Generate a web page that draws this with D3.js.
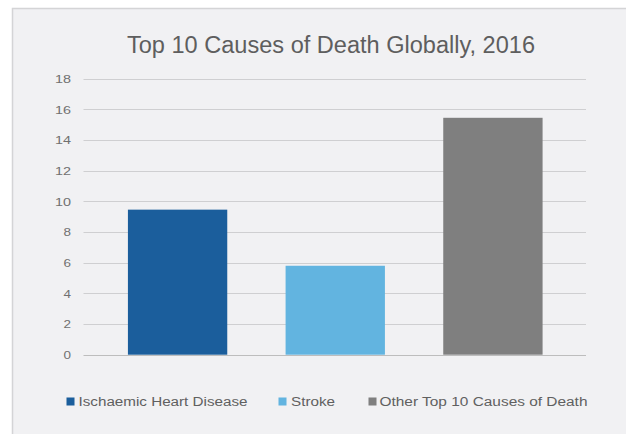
<!DOCTYPE html>
<html>
<head>
<meta charset="utf-8">
<script src="https://cdn.jsdelivr.net/npm/d3@7"></script>
<style>
  html, body { margin: 0; padding: 0; background: #ffffff; }
  svg { display: block; }
  text { font-family: "Liberation Sans", Arial, sans-serif; }
</style>
</head>
<body>
<svg id="chart" width="626" height="434"></svg>
<script>
const categories = ["Ischaemic Heart Disease", "Stroke", "Other Top 10 Causes of Death"];
const values = [9.46, 5.8, 15.45];
const colors = ["#1b5e9c", "#62b4e0", "#7f7f7f"];
const yTicks = [0, 2, 4, 6, 8, 10, 12, 14, 16, 18];
const title = "Top 10 Causes of Death Globally, 2016";

const svg = d3.select("#chart");
const W = 626, H = 434;

// panel
svg.append("rect").attr("x", 12.5).attr("y", 8.5).attr("width", W).attr("height", H)
  .attr("fill", "#f1f1f3").attr("stroke", "#d4d4d6").attr("stroke-width", 1.5);

const y = d3.scaleLinear().domain([0, 18]).range([354.7, 78.7]);
const x = d3.scaleBand().domain(categories).range([98.75, 571.75]).paddingInner(0.37).paddingOuter(0.185);

const gridX0 = 83.5, gridX1 = 586;

// gridlines
svg.append("g").selectAll("line").data(yTicks).join("line")
  .attr("x1", gridX0).attr("x2", gridX1)
  .attr("y1", d => Math.round(y(d)) + 0.5).attr("y2", d => Math.round(y(d)) + 0.5)
  .attr("stroke", d => d === 0 ? "#bdbdbd" : "#cfcfd1").attr("stroke-width", 1);

// y tick labels
svg.append("g").selectAll("text").data(yTicks).join("text")
  .attr("x", 71).attr("y", d => y(d)).attr("dy", "0.36em")
  .attr("text-anchor", "end").attr("font-size", 11.5).attr("fill", "#707070")
  .attr("textLength", d => String(d).length === 2 ? 16 : 7.5)
  .attr("lengthAdjust", "spacingAndGlyphs")
  .text(d => d);

// bars
svg.append("g").selectAll("rect").data(categories).join("rect")
  .attr("x", d => x(d)).attr("width", x.bandwidth())
  .attr("y", (d, i) => y(values[i])).attr("height", (d, i) => y(0) - y(values[i]))
  .attr("fill", (d, i) => colors[i]);

// title
svg.append("text").attr("x", 331).attr("y", 53).attr("text-anchor", "middle")
  .attr("font-size", 23.5).attr("fill", "#5e5e5e")
  .attr("textLength", 408).attr("lengthAdjust", "spacingAndGlyphs")
  .text(title);

// legend
const legendSq = [66.5, 278.5, 368.5];
const legendTx = [78.5, 291, 379.5];
const legendLen = [169, 44, 208];
const lg = svg.append("g").selectAll("g").data(categories).join("g");
lg.append("rect").attr("x", (d, i) => legendSq[i]).attr("y", 397.5).attr("width", 8).attr("height", 8)
  .attr("fill", (d, i) => colors[i]);
lg.append("text").attr("x", (d, i) => legendTx[i]).attr("y", 406)
  .attr("font-size", 12).attr("fill", "#606060")
  .attr("textLength", (d, i) => legendLen[i]).attr("lengthAdjust", "spacingAndGlyphs")
  .text(d => d);
</script>
</body>
</html>
